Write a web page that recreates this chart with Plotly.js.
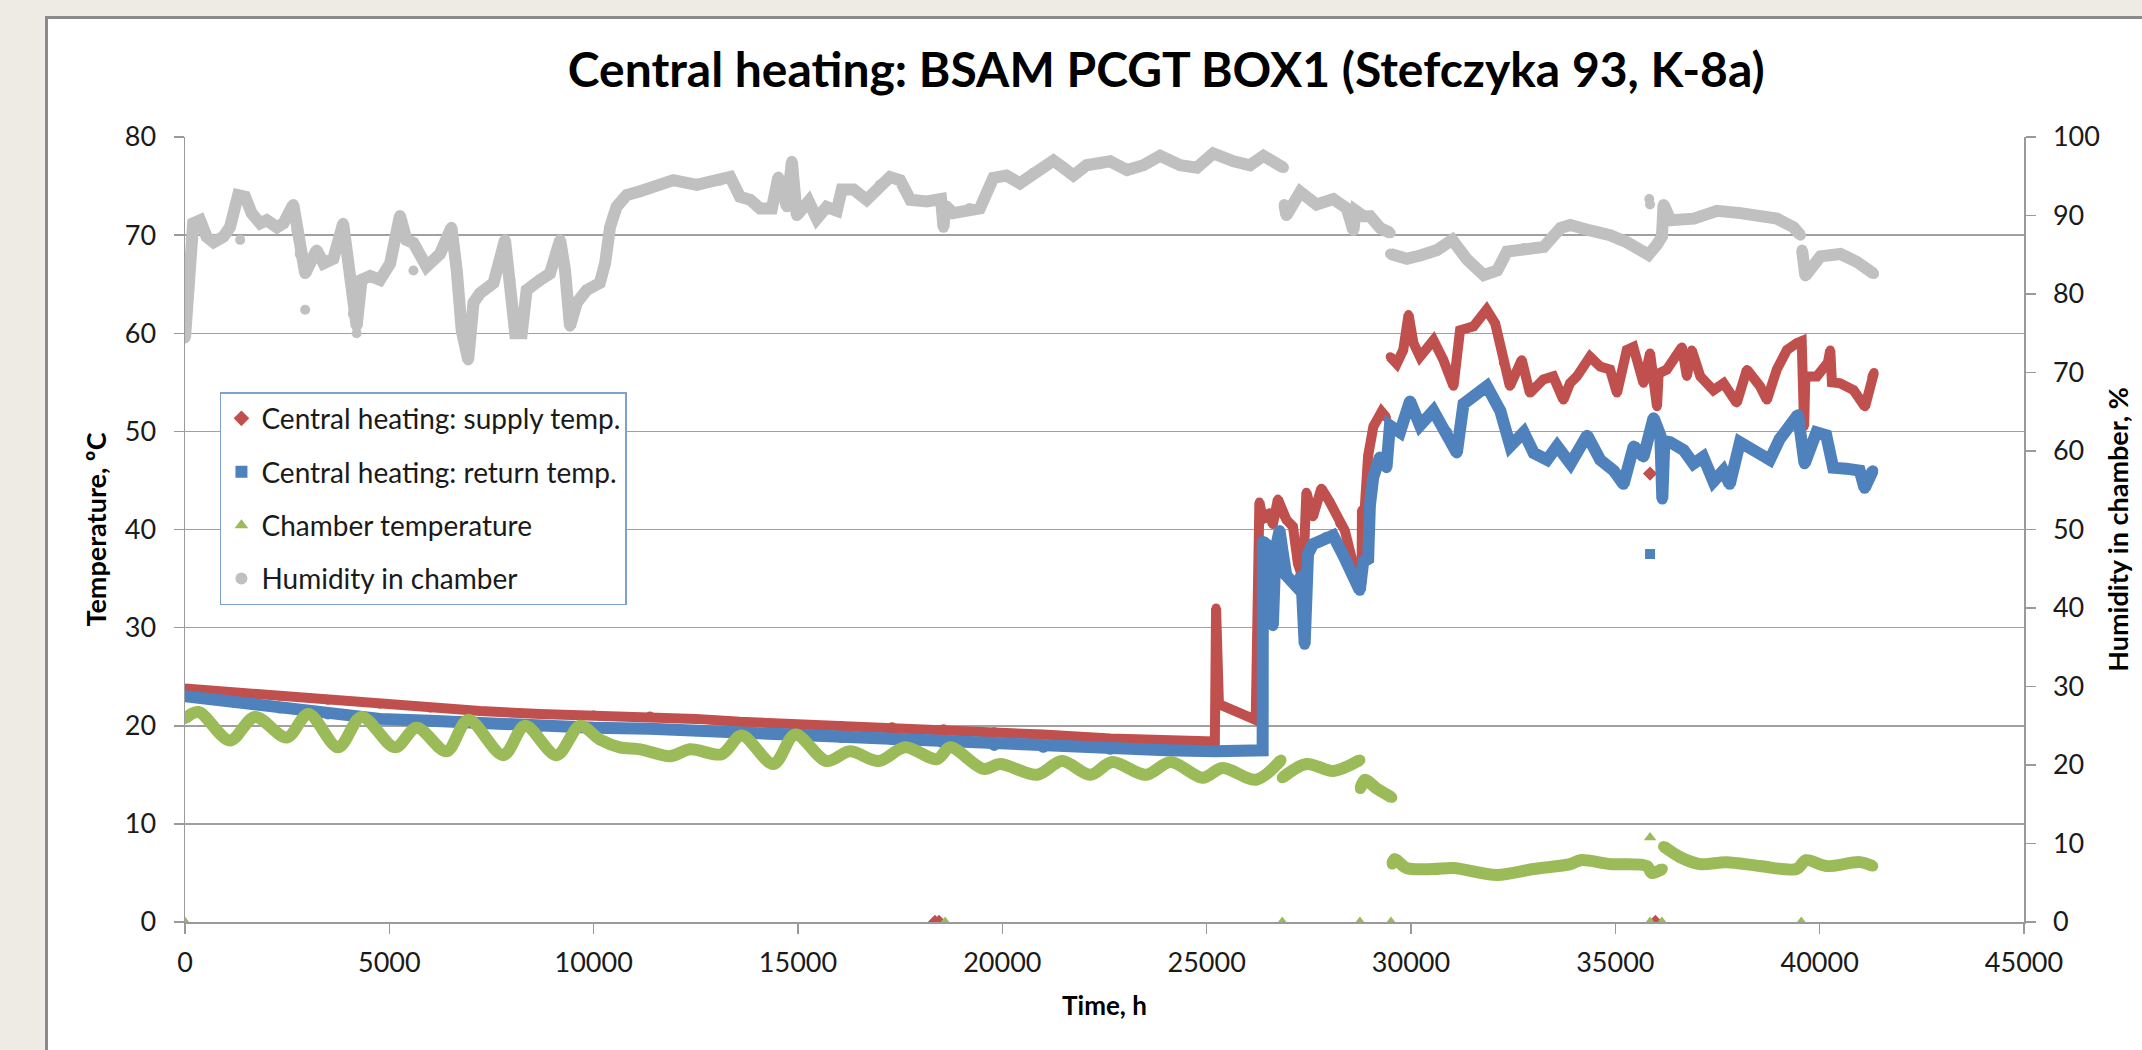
<!DOCTYPE html>
<html>
<head>
<meta charset="utf-8">
<script src="https://cdn.plot.ly/plotly-3.0.1.min.js"></script>
<style>
  html, body { margin:0; padding:0; width:2142px; height:1050px; overflow:hidden; background:#EEEBE4; }
  #frame { position:absolute; left:45px; top:16px; width:2097px; height:1034px; border-left:3px solid #8a8a8a; border-top:3px solid #8a8a8a; background:#ffffff; }
  #chart { position:absolute; left:0; top:0; width:2094px; height:1031px; }
</style>
</head>
<body>
<div id="frame"><div id="chart"></div></div>
<script>
// ---------------- DATA ----------------
const seriesNames = ["Central heating: supply temp.", "Central heating: return temp.", "Chamber temperature", "Humidity in chamber"];
const xTicks = [0, 5000, 10000, 15000, 20000, 25000, 30000, 35000, 40000, 45000];

// Supply temperature (°C), time in h; null = gap
const supplyTime = [0, 1200, 2325, 3500, 4770, 6000, 7220, 8690, 10000, 11380, 12500, 13580, 14800, 16070, 17300, 18560, 19800, 21000, 22640, 24000, 25200,
  25230, 25260, 25300, 25700, 26200, 26290, 26375, 26540, 26620, 26743, 26866, 26950, 27111, 27234, 27357, 27440, 27600, 27807, 28011, 28257, 28380, 28584, 28789,
  28800, 28850, 28950, 29080, 29280, 29400, null,
  29490, 29650, 29810, 29940, 30060, 30220, 30550, 30790, 31040, 31200, 31530, 31850, 32060, 32260, 32420, 32710, 32910, 33240, 33480, 33730, 33890,
  34060, 34380, 34630, 34870, 35040, 35280, 35440, 35690, 35850, 36020, 36060, 36260, 36630, 36750, 36870, 37080, 37400, 37650, 37970, 38220, 38540, 38710,
  38950, 39200, 39440, 39560, 39620, 39650, 39930, 40200, 40260, 40300, 40500, 40830, 41110, 41280, 41330];
const supplyTemp = [23.8, 23.4, 23.0, 22.6, 22.2, 21.8, 21.5, 21.2, 21.1, 21.0, 20.7, 20.4, 20.2, 20.0, 19.9, 19.7, 19.4, 19.1, 18.7, 18.5, 18.4,
  32.0, 28.0, 22.2, 21.5, 20.6, 42.8, 41.0, 41.7, 40.5, 43.1, 41.5, 41.0, 40.3, 36.5, 35.0, 43.8, 41.3, 44.2, 42.8, 40.6, 39.9, 36.5, 34.5,
  42.0, 41.0, 47.5, 50.5, 52.0, 51.4, null,
  57.6, 56.9, 58.3, 61.9, 59.0, 57.6, 59.3, 57.3, 54.6, 60.3, 60.7, 62.4, 61.0, 57.0, 54.6, 57.3, 53.9, 55.3, 55.6, 53.2, 54.9,
  55.6, 57.6, 56.6, 56.3, 53.9, 58.3, 58.6, 54.9, 58.0, 52.5, 55.9, 56.3, 58.6, 55.6, 58.3, 55.6, 54.2, 54.9, 52.9, 56.3, 54.6, 53.2,
  56.3, 58.3, 59.0, 59.2, 50.5, 55.6, 55.6, 57.0, 58.3, 55.0, 54.9, 54.2, 52.5, 55.6, 56.0];

// Return temperature (°C)
const returnTime = [0, 1200, 2325, 3500, 4770, 6000, 7220, 8690, 10000, 11380, 12500, 13580, 14800, 16070, 17300, 18500, 18560, 19800, 21000, 22640, 24000, 25200, 26370,
  26375, 26457, 26580, 26620, 26686, 26784, 26866, 26950, 27193, 27316, 27398, 27480, 27600, 27930, 28093, 28339, 28748, 28830, 28952, 28993, 29075, 29239, 29400,
  29484, 29730, 29975, 30220, 30548, 30875, 31121, 31285, 31857, 32185, 32430, 32758, 33003, 33330, 33576, 33903,
  34310, 34630, 34960, 35200, 35450, 35690, 35935, 36100, 36150, 36200, 36340, 36670, 36910, 37150, 37400, 37640, 37800, 38050, 38370, 38780,
  39020, 39270, 39470, 39630, 39920, 40160, 40330, 40650, 40980, 41100, 41300];
const returnTemp = [23.0, 22.4, 21.8, 21.2, 20.7, 20.5, 20.2, 19.9, 19.8, 19.7, 19.5, 19.2, 19.0, 18.8, 18.6, 18.4, 18.2, 18.0, 17.8, 17.6, 17.5, 17.4, 17.5,
  38.8, 38.5, 37.0, 30.2, 38.0, 39.9, 37.5, 35.3, 34.2, 35.3, 28.3, 37.5, 38.5, 39.2, 39.4, 37.4, 33.8, 36.7, 37.0, 42.4, 45.3, 47.4, 46.3,
  50.6, 49.9, 53.1, 50.6, 52.1, 49.9, 47.8, 52.8, 54.6, 52.1, 48.5, 49.9, 47.8, 47.1, 48.5, 46.7,
  49.6, 47.1, 46.0, 44.6, 48.5, 47.4, 51.4, 49.6, 43.1, 49.0, 48.9, 48.1, 46.7, 47.4, 44.9, 46.0, 44.6, 48.9, 48.1, 47.1,
  49.2, 50.6, 51.7, 46.7, 49.9, 49.6, 46.3, 46.2, 46.0, 44.2, 46.0];

// Chamber temperature (°C)
const chamberTime = [0, 330, 1100, 1710, 2490, 3020, 3750, 4320, 5140, 5670, 6400, 6930, 7790, 8320, 9090, 9670, 10150, 10640, 11140, 11870, 12360, 13130, 13620,
  14400, 14930, 15700, 16270, 16970, 17620, 18400, 18720, 19540, 19950, 20850, 21460, 22150, 22690, 23510, 24120, 24900, 25390, 26210, 26820, null,
  26850, 27440, 28100, 28750, null,
  28760, 28870, 29160, 29530, null,
  29540, 29600, 29890, 30550, 31040, 32100, 33000, 33900, 34150, 34880, 35770, 35890, 36150, null,
  36180, 36590, 37070, 37720, 38540, 39430, 39670, 40160, 40980, 41300];
const chamberTemp = [20.75, 21.4, 18.5, 20.9, 18.8, 21.2, 17.8, 20.9, 17.8, 19.8, 17.4, 20.6, 17.0, 20.0, 17.0, 20.0, 18.6, 17.8, 17.6, 16.9, 17.6, 17.1, 19.0,
  16.1, 19.1, 16.4, 17.4, 16.4, 17.8, 16.6, 17.8, 15.6, 16.1, 15.0, 16.4, 15.0, 16.3, 15.0, 16.3, 14.7, 15.7, 14.5, 16.5, null,
  14.7, 16.1, 15.4, 16.5, null,
  13.6, 14.5, 13.6, 12.7, null,
  5.9, 6.4, 5.5, 5.4, 5.5, 4.8, 5.4, 5.9, 6.3, 5.9, 5.7, 5.0, 5.4, null,
  7.7, 6.6, 5.9, 6.1, 5.7, 5.4, 6.3, 5.7, 6.1, 5.7];

// Humidity in chamber (%), secondary axis
const humidityTime = [0, 60, 150, 200, 370, 530, 700, 940, 1100, 1300, 1470, 1630, 1840, 2000, 2250, 2410, 2650, 2740, 2820, 2940, 3060, 3220, 3390, 3630,
  3870, 4000, 4120, 4200, 4320, 4530, 4770, 5020, 5260, 5420, 5590, 5910, 6240, 6520, 6650, 6770, 6930, 7060, 7220, 7550, 7830, 7950, 8080, 8240, 8360,
  8690, 8930, 9180, 9300, 9420, 9590, 9830, 10150, 10280, 10400, 10560, 10810, 11140, 11950, 12520, 13090, 13340, 13580, 13830, 14070, 14360, 14520,
  14730, 14850, 14970, 15260, 15460, 15700, 15950, 16070, 16360, 16680, 17010, 17250, 17500, 17750, 18150, 18500, 18560, 18600, 18800, 19200, 19450,
  19780, 20100, 20430, 20760, 21250, 21490, 21740, 22060, 22390, 22640, 23050, 23450, 23860, 24350, 24760, 25160, 25660, 26060, 26390, 26630, 26880, null,
  26900, 26950, 27290, 27690, 28100, 28430, 28590, 28650, 28840, 29000, 29250, 29490, null,
  29500, 29900, 30230, 30640, 31010, 31370, 31780, 32110, 32350, 32760, 33250, 33660, 33900, 34380, 34870, 35280, 35690, 35810, 36020, 36140,
  36180, 36350, 36920, 37490, 38060, 38550, 38950, 39360, 39530, null,
  39570, 39650, 40020, 40510, 40910, 41320];
const humidity = [74.4, 81.0, 87.0, 89.0, 89.4, 87.3, 86.6, 87.3, 88.5, 92.6, 92.4, 90.3, 89.0, 89.4, 88.5, 89.0, 91.4, 88.1, 85.1, 82.6, 83.9, 85.6, 83.9, 84.5,
  89.0, 83.9, 77.5, 75.9, 81.8, 82.3, 81.8, 83.9, 90.0, 86.9, 86.5, 83.5, 85.1, 88.5, 83.0, 75.4, 71.6, 78.9, 80.1, 81.4, 86.9, 81.8, 75.0, 75.0, 80.5,
  81.8, 82.6, 86.9, 83.0, 75.9, 78.9, 80.5, 81.4, 83.9, 88.5, 91.1, 92.6, 93.1, 94.5, 93.9, 94.5, 94.9, 92.4, 92.0, 90.9, 90.9, 94.9,
  91.1, 96.9, 90.0, 91.8, 89.6, 91.1, 90.6, 93.3, 93.3, 92.0, 93.9, 94.9, 94.5, 92.0, 91.8, 92.1, 88.5, 91.3, 90.3, 90.9, 90.9,
  94.8, 95.1, 94.1, 95.4, 97.0, 96.1, 95.1, 96.4, 96.6, 96.9, 95.8, 96.4, 97.6, 96.4, 96.1, 97.9, 96.9, 96.4, 97.6, 96.9, 96.1, null,
  91.4, 90.0, 93.0, 91.4, 92.1, 90.9, 88.1, 90.6, 89.9, 89.9, 88.4, 87.8, null,
  85.1, 84.5, 84.9, 85.6, 86.9, 84.4, 82.4, 83.0, 85.4, 85.8, 86.0, 88.4, 88.8, 88.1, 87.5, 86.6, 85.4, 85.0, 86.3, 87.3,
  91.4, 89.4, 89.6, 90.6, 90.3, 89.9, 89.6, 88.5, 87.5, null,
  85.6, 82.3, 84.8, 85.1, 84.1, 82.6];

// Isolated points (outliers)
const supplyOutTime = [18350, 18450, 35850, 35980];
const supplyOutTemp = [0, 0, 45.7, 0];
const returnOutTime = [35850];
const returnOutTemp = [37.5];
const chamberOutTime = [0, 18600, 26850, 28750, 29510, 35850, 35850, 36140, 39550];
const chamberOutTemp = [0, 0, 0, 0, 0, 8.6, 0, 0, 0];
const humidityOutTime = [1350, 2940, 4200, 5590, 14700, 35830, 35850];
const humidityOutVal = [86.9, 78.0, 75.0, 83.0, 92.0, 92.1, 91.4];

// ---------------- STYLE ----------------
const cRed = "#C0504D", cBlue = "#4F81BD", cGreen = "#9BBB59", cGray = "#C0C0C0";
const FONT = "Lato, 'Open Sans', 'DejaVu Sans', sans-serif";

function lineTrace(x, y, color, width, yaxis, shape) {
  return { type: "scatter", mode: "lines+markers", x: x, y: y, yaxis: yaxis || "y", connectgaps: false,
    line: { color: color, width: width, shape: shape || "linear", smoothing: 0.9 },
    marker: { color: color, size: width - 1, symbol: "circle" },
    showlegend: false, hoverinfo: "skip" };
}
function ptTrace(x, y, color, symbol, size, yaxis) {
  return { type: "scatter", mode: "markers", x: x, y: y, yaxis: yaxis || "y",
    marker: { color: color, symbol: symbol, size: size }, showlegend: false, hoverinfo: "skip" };
}
function legendTrace(name, color, symbol, size, group) {
  return { type: "scatter", mode: "markers", x: [null], y: [null], name: name, legendgroup: group,
    marker: { color: color, symbol: symbol, size: size }, showlegend: true, hoverinfo: "skip" };
}

const traces = [
  lineTrace(supplyTime, supplyTemp, cRed, 10),
  ptTrace(supplyOutTime, supplyOutTemp, cRed, "diamond", 11),
  lineTrace(returnTime, returnTemp, cBlue, 12),
  ptTrace(returnOutTime, returnOutTemp, cBlue, "square", 10),
  lineTrace(chamberTime, chamberTemp, cGreen, 12, "y", "spline"),
  ptTrace(chamberOutTime, chamberOutTemp, cGreen, "triangle-up", 11),
  lineTrace(humidityTime, humidity, cGray, 12, "y2"),
  ptTrace(humidityOutTime, humidityOutVal, cGray, "circle", 10, "y2"),
  legendTrace(seriesNames[0], cRed, "diamond", 8, "g1"),
  legendTrace(seriesNames[1], cBlue, "square", 8, "g2"),
  legendTrace(seriesNames[2], cGreen, "triangle-up", 8, "g3"),
  legendTrace(seriesNames[3], cGray, "circle", 8, "g4")
];

const axisCommon = {
  showline: true, linecolor: "#9a9a9a", linewidth: 1.5,
  ticks: "outside", ticklen: 10, tickcolor: "#9a9a9a", tickwidth: 1.5,
  tickfont: { family: FONT, size: 27, color: "#1a1a1a" },
  zeroline: false, fixedrange: true
};

const layout = {
  width: 2094, height: 1031,
  margin: { l: 137, r: 118, t: 118, b: 128, autoexpand: false },
  paper_bgcolor: "#ffffff", plot_bgcolor: "#ffffff",
  font: { family: FONT, color: "#000000" },
  title: { text: "Central heating: BSAM PCGT BOX1 (Stefczyka 93, K-8a)",
    font: { family: FONT, size: 48, color: "#000000", weight: "bold" },
    xref: "container", yref: "container", x: 0.534, y: 0.95, xanchor: "center", yanchor: "middle" },
  xaxis: Object.assign({}, axisCommon, {
    range: [0, 45000], tickvals: xTicks, ticktext: xTicks.map(String), showgrid: false,
    ticklabelstandoff: 6,
    title: { text: "Time, h", font: { family: FONT, size: 26, weight: "bold", color: "#000" }, standoff: 20 }
  }),
  yaxis: Object.assign({}, axisCommon, {
    range: [0, 80], dtick: 10, tick0: 0, showgrid: true, gridcolor: "#a0a0a0", gridwidth: 1.5,
    ticklabelstandoff: 12,
    title: { text: "Temperature, ºC", font: { family: FONT, size: 27, weight: "bold", color: "#000" }, standoff: 10 }
  }),
  yaxis2: Object.assign({}, axisCommon, {
    range: [0, 100], dtick: 10, tick0: 0, overlaying: "y", side: "right", showgrid: false,
    ticklabelstandoff: 12,
    title: { text: "Humidity in chamber, %", font: { family: FONT, size: 27, weight: "bold", color: "#000" }, standoff: 10 }
  }),
  showlegend: true,
  legend: {
    x: 0.019, y: 0.675, xanchor: "left", yanchor: "top",
    bgcolor: "#ffffff", bordercolor: "#7F9FCF", borderwidth: 1.5,
    font: { family: FONT, size: 28, color: "#1a1a1a" },
    traceorder: "grouped", tracegroupgap: 14, itemsizing: "constant"
  }
};

Plotly.newPlot("chart", traces, layout, { displayModeBar: false, staticPlot: true });
</script>
</body>
</html>
